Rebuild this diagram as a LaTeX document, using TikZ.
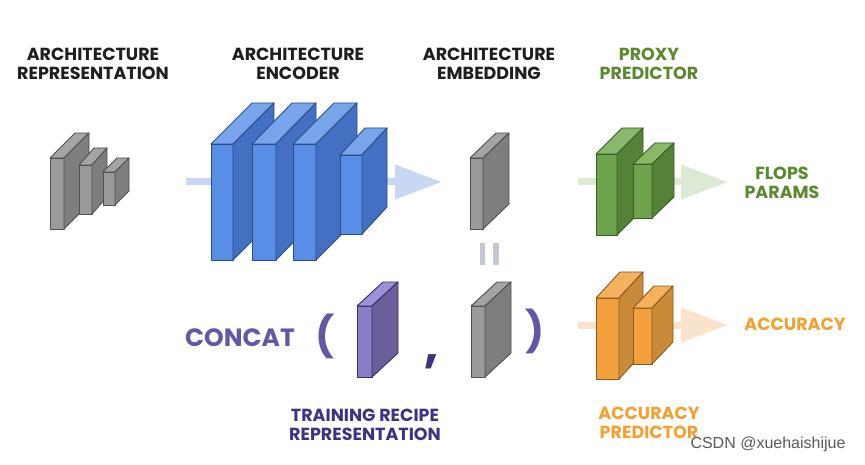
\documentclass[tikz,border=0pt]{standalone}
\usepackage{fontspec}
\setmainfont{Poppins}
\newfontfamily\wmfont{Liberation Sans}
\usetikzlibrary{arrows.meta}
\definecolor{grayfront}{HTML}{9A9A9A}\definecolor{grayside}{HTML}{7E7E7E}\definecolor{graytop}{HTML}{A4A4A4}\definecolor{grayline}{HTML}{505050}
\definecolor{bluefront}{HTML}{5A8DE6}\definecolor{blueside}{HTML}{4470C4}\definecolor{bluetop}{HTML}{79A4EC}\definecolor{blueline}{HTML}{2B4C85}
\definecolor{greenfront}{HTML}{6FA24C}\definecolor{greenside}{HTML}{568238}\definecolor{greentop}{HTML}{8AB86A}\definecolor{greenline}{HTML}{3A5C26}
\definecolor{purplefront}{HTML}{8A7DC8}\definecolor{purpleside}{HTML}{6A5F9A}\definecolor{purpletop}{HTML}{9C90D6}\definecolor{purpleline}{HTML}{3A2E68}
\definecolor{orangefront}{HTML}{F2A03C}\definecolor{orangeside}{HTML}{C98A3A}\definecolor{orangetop}{HTML}{F4B25E}\definecolor{orangeline}{HTML}{8A5A1E}
\definecolor{titlecol}{HTML}{1E1E1E}
\definecolor{greentext}{HTML}{5A8A2E}
\definecolor{concatcol}{HTML}{6656A8}
\definecolor{recipecol}{HTML}{3F3282}
\definecolor{orangetext}{HTML}{F2A131}
\definecolor{arrblue}{HTML}{C8D8F4}
\definecolor{arrgreen}{HTML}{DCE9D4}
\definecolor{arrorange}{HTML}{F9E3CD}
\definecolor{eqcol}{HTML}{C2C8D2}
\newcommand\layerbox[7]{%
  \filldraw[fill=#7front, draw=#7line, line width=0.9pt, line join=round] (#1,#3) rectangle (#2,#4);
  \filldraw[fill=#7top, draw=#7line, line width=0.9pt, line join=round] (#1,#3) -- ++(#5,-#6) -- ++({#2-#1},0) -- (#2,#3) -- cycle;
  \filldraw[fill=#7side, draw=#7line, line width=0.9pt, line join=round] (#2,#3) -- ++(#5,-#6) -- ++(0,{#4-#3}) -- (#2,#4) -- cycle;}
\begin{document}
\begin{tikzpicture}[x=1pt,y=-1pt,
  title/.style={font=\fontsize{17.5}{19}\selectfont\bfseries, text=titlecol, align=center, inner sep=0pt},
  fatarrow/.style={line width=7pt, -{Triangle[length=47pt,width=33pt]}}]
\useasboundingbox (0,0) rectangle (865,465);
\fill[white] (0,0) rectangle (865,465);
% titles
\node[title] (t1) at (93,63.5) {ARCHITECTURE\\REPRESENTATION};
\node[title] (t2) at (298,63.5) {ARCHITECTURE\\ENCODER};
\node[title] (t3) at (489,63.5) {ARCHITECTURE\\EMBEDDING};
\node[title, text=greentext] (t4) at (649,63.5) {PROXY\\PREDICTOR};
% arrows
\coordinate (ba) at (186,182); \coordinate (bb) at (442,182);
\coordinate (ga) at (578,182); \coordinate (gb) at (728,182);
\coordinate (oa) at (578,325); \coordinate (ob) at (728,325);
\draw[fatarrow, arrblue] (ba) -- (bb);
\draw[fatarrow, arrgreen] (ga) -- (gb);
\draw[fatarrow, arrorange] (oa) -- (ob);
% architecture representation
\layerbox{50}{64}{158}{229}{25}{25}{gray}
\layerbox{79}{92}{165}{214}{15}{17}{gray}
\layerbox{103}{115}{172}{205}{14}{14}{gray}
% encoder
\layerbox{211}{233}{144}{260}{41}{41}{blue}
\layerbox{252}{276}{144}{260}{40}{41}{blue}
\layerbox{293}{316}{144}{260}{41}{41}{blue}
\layerbox{340}{362}{155}{234}{25}{27}{blue}
% embedding
\layerbox{470}{483}{158}{229}{26}{25}{gray}
\fill[eqcol] (480,243) rectangle (485,265);
\fill[eqcol] (493,243) rectangle (499,265);
% proxy predictor
\layerbox{596}{617}{154}{235}{26}{26}{green}
\layerbox{633}{652}{164}{218}{22}{21}{green}
\node[title, text=greentext] (fp) at (782,183) {FLOPS\\PARAMS};
% concat row
\node[font=\fontsize{25}{28}\selectfont\bfseries, text=concatcol, inner sep=0pt] (cc) at (240,338) {CONCAT};
\node[font=\fontsize{40}{44}\selectfont\bfseries, text=concatcol, inner sep=0pt] (lp) at (325,336) {(};
\layerbox{357}{372}{306}{377}{26}{24}{purple}
\node[font=\fontsize{50}{54}\selectfont\bfseries, text=recipecol, inner sep=0pt, anchor=base] (cm) at (432,362) {,};
\layerbox{471}{485}{306}{377}{26}{24}{gray}
\node[font=\fontsize{40}{44}\selectfont\bfseries, text=concatcol, inner sep=0pt] (rp) at (535,331) {)};
\node[title, text=recipecol] (t5) at (365,424.5) {TRAINING RECIPE\\REPRESENTATION};
% accuracy predictor
\layerbox{596}{619}{298}{379}{24}{26}{orange}
\layerbox{633}{652}{308}{364}{21}{22}{orange}
\node[title, text=orangetext] (acc) at (795,324) {ACCURACY};
\node[title, text=orangetext] (t6) at (649,423) {ACCURACY\\PREDICTOR};
% watermark
\node[font=\wmfont\fontsize{16}{18}\selectfont, text=black!65, inner sep=0pt] (wm) at (768,444) {CSDN @xuehaishijue};
\end{tikzpicture}
\end{document}
